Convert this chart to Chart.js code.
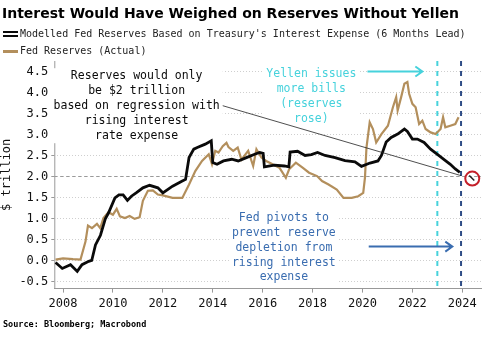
<!DOCTYPE html>
<html>
<head>
<meta charset="utf-8">
<script src="https://cdn.jsdelivr.net/npm/chart.js@4"></script>
<style>
  html, body { margin: 0; padding: 0; background: #fff; }
  #wrap { width: 485px; height: 343px; position: relative; }
</style>
</head>
<body>
<div id="wrap"><canvas id="chart"></canvas></div>
<script>
// Modelled reserves (black), decimal year -> $ trillion
const modelYears = [2007.7, 2007.97, 2008.3, 2008.57, 2008.76, 2009.03, 2009.15, 2009.3, 2009.5, 2009.7,
  2009.82, 2010.08, 2010.24, 2010.41, 2010.58, 2010.74, 2010.93, 2011.2, 2011.47, 2011.8,
  2012.0, 2012.39, 2012.78, 2012.91, 2013.05, 2013.24, 2013.38, 2013.7, 2013.94, 2014.0,
  2014.17, 2014.43, 2014.76, 2015.02, 2015.35, 2015.68, 2015.88, 2016.02, 2016.07, 2016.47,
  2016.87, 2017.05, 2017.1, 2017.4, 2017.7, 2017.95, 2018.2, 2018.5, 2018.9, 2019.3,
  2019.7, 2019.96, 2020.3, 2020.62, 2020.76, 2020.95, 2021.15, 2021.41, 2021.68, 2021.8,
  2022.0, 2022.2, 2022.47, 2022.73, 2022.99, 2023.26, 2023.52, 2023.72, 2023.9];
const modelValues = [-0.05, -0.19, -0.10, -0.26, -0.10, -0.02, 0.00, 0.37, 0.60, 1.00,
  1.13, 1.49, 1.56, 1.56, 1.43, 1.53, 1.61, 1.73, 1.79, 1.73,
  1.61, 1.77, 1.89, 1.93, 2.45, 2.65, 2.69, 2.77, 2.85, 2.33,
  2.29, 2.37, 2.41, 2.37, 2.45, 2.53, 2.57, 2.55, 2.23, 2.27,
  2.25, 2.23, 2.58, 2.60, 2.50, 2.52, 2.57, 2.50, 2.45, 2.38,
  2.35, 2.24, 2.32, 2.37, 2.50, 2.82, 2.93, 3.01, 3.13, 3.07,
  2.89, 2.89, 2.81, 2.65, 2.53, 2.41, 2.29, 2.18, 2.10];

// Actual Fed reserves (tan)
const actualYears = [2007.7, 2008.0, 2008.4, 2008.7, 2008.9, 2009.0, 2009.16, 2009.36, 2009.49, 2009.62,
  2009.82, 2010.0, 2010.15, 2010.28, 2010.48, 2010.67, 2010.87, 2011.07, 2011.2, 2011.4,
  2011.6, 2011.8, 2012.0, 2012.39, 2012.78, 2013.05, 2013.3, 2013.57, 2013.84, 2013.97,
  2014.1, 2014.23, 2014.4, 2014.55, 2014.63, 2014.82, 2015.0, 2015.15, 2015.42, 2015.62,
  2015.75, 2015.95, 2016.14, 2016.4, 2016.67, 2016.93, 2017.06, 2017.33, 2017.6, 2017.86,
  2018.18, 2018.38, 2018.64, 2018.97, 2019.24, 2019.57, 2019.83, 2020.03, 2020.1, 2020.16,
  2020.29, 2020.42, 2020.55, 2020.76, 2021.02, 2021.22, 2021.35, 2021.41, 2021.55, 2021.68,
  2021.8, 2021.87, 2022.0, 2022.13, 2022.27, 2022.4, 2022.53, 2022.73, 2022.93, 2023.13,
  2023.23, 2023.32, 2023.52, 2023.72, 2023.85];
const actualValues = [0.02, 0.05, 0.03, 0.02, 0.45, 0.83, 0.77, 0.87, 0.77, 1.01,
  1.15, 1.09, 1.23, 1.05, 1.01, 1.06, 0.99, 1.03, 1.42, 1.66,
  1.67, 1.57, 1.55, 1.49, 1.49, 1.81, 2.13, 2.37, 2.53, 2.29,
  2.61, 2.57, 2.72, 2.80, 2.70, 2.61, 2.69, 2.40, 2.61, 2.25,
  2.65, 2.45, 2.37, 2.29, 2.21, 1.97, 2.17, 2.33, 2.21, 2.09,
  2.01, 1.89, 1.81, 1.69, 1.49, 1.49, 1.53, 1.61, 1.97, 2.69,
  3.29, 3.13, 2.81, 3.01, 3.21, 3.65, 3.89, 3.57, 3.89, 4.21,
  4.25, 3.97, 3.73, 3.65, 3.25, 3.33, 3.13, 3.05, 3.01, 3.13,
  3.41, 3.17, 3.21, 3.25, 3.41];

const xTicks = [2008, 2010, 2012, 2014, 2016, 2018, 2020, 2022, 2024];
const yTicks = [-0.5, 0.0, 0.5, 1.0, 1.5, 2.0, 2.5, 3.0, 3.5, 4.0, 4.5];

const seriesNames = ["Modelled Fed Reserves Based on Treasury's Interest Expense (6 Months Lead)", 'Fed Reserves (Actual)'];
const titleText = 'Interest Would Have Weighed on Reserves Without Yellen';
const sourceText = 'Source: Bloomberg; Macrobond';

const yellenYear = 2023.0;
const pivotYear = 2023.95;
const targetValue = 2.02;

const noteBlack = ['Reserves would only', 'be $2 trillion', 'based on regression with', 'rising interest', 'rate expense'];
const noteCyan = ['Yellen issues', 'more bills', '(reserves', 'rose)'];
const noteBlue = ['Fed pivots to', 'prevent reserve', 'depletion from', 'rising interest', 'expense'];

const BLACK = '#0a0a0a';
const TAN = '#b38f5c';
const CYAN = '#46d2dc';
const BLUE = '#3a6db0';
const NAVY = '#2f4d86';
const MONO = '"DejaVu Sans Mono", "Liberation Mono", monospace';

function toPoints(xs, ys) {
    return xs.map((x, i) => ({ x: x, y: ys[i] }));
}

function textBlock(ctx, lines, cx, top, lh, color) {
    ctx.save();
    ctx.font = '11.5px ' + MONO;
    ctx.textAlign = 'center';
    ctx.textBaseline = 'middle';
    // white box behind the note hides the grid lines
    const w = Math.max(...lines.map(l => ctx.measureText(l).width)) + 6;
    ctx.fillStyle = '#fff';
    ctx.fillRect(cx - w / 2, top - lh / 2, w, lh * lines.length);
    ctx.fillStyle = color;
    lines.forEach((l, i) => ctx.fillText(l, cx, top + i * lh));
    ctx.restore();
}

function arrow(ctx, x1, x2, y, color) {
    ctx.save();
    ctx.strokeStyle = color;
    ctx.lineWidth = 2;
    ctx.beginPath();
    ctx.moveTo(x1, y);
    ctx.lineTo(x2, y);
    ctx.moveTo(x2 - 7, y - 5);
    ctx.lineTo(x2, y);
    ctx.lineTo(x2 - 7, y + 5);
    ctx.stroke();
    ctx.restore();
}

const annotations = {
    id: 'annotations',
    beforeDatasetsDraw(chart) {
        const { ctx, chartArea: a, scales: { x, y } } = chart;
        // darker dashed 2.0 line
        ctx.save();
        ctx.strokeStyle = '#9a9a9a';
        ctx.lineWidth = 1;
        ctx.setLineDash([3, 3]);
        const y2 = Math.round(y.getPixelForValue(2)) + 0.5;
        ctx.beginPath();
        ctx.moveTo(a.left, y2);
        ctx.lineTo(a.right, y2);
        ctx.stroke();
        // vertical markers
        ctx.lineWidth = 2;
        ctx.setLineDash([5, 5]);
        [[yellenYear, CYAN], [pivotYear, NAVY]].forEach(([yr, c]) => {
            const px = x.getPixelForValue(yr);
            ctx.strokeStyle = c;
            ctx.beginPath();
            ctx.moveTo(px, a.top);
            ctx.lineTo(px, a.bottom);
            ctx.stroke();
        });
        // solid left axis
        ctx.setLineDash([]);
        ctx.lineWidth = 1;
        ctx.strokeStyle = '#999';
        ctx.beginPath();
        ctx.moveTo(a.left + 0.5, a.top);
        ctx.lineTo(a.left + 0.5, a.bottom);
        ctx.stroke();
        ctx.restore();

        textBlock(ctx, noteBlack, x.getPixelForValue(2010.95), y.getPixelForValue(4.4), 15, BLACK);
        textBlock(ctx, noteCyan, x.getPixelForValue(2017.95), y.getPixelForValue(4.45), 15, CYAN);
        textBlock(ctx, noteBlue, x.getPixelForValue(2016.85), y.getPixelForValue(1.0), 14.7, BLUE);

        arrow(ctx, x.getPixelForValue(2020.2), x.getPixelForValue(2022.4), y.getPixelForValue(4.5), CYAN);
        arrow(ctx, x.getPixelForValue(2020.25), x.getPixelForValue(2023.6), y.getPixelForValue(0.33), BLUE);
    },
    afterDatasetsDraw(chart) {
        const { ctx, scales: { x, y } } = chart;
        // pointer line from the black note
        ctx.save();
        ctx.font = '11.5px ' + MONO;
        const lineY = y.getPixelForValue(4.4) + 30;
        const startX = x.getPixelForValue(2010.95) + ctx.measureText(noteBlack[2]).width / 2 + 3;
        const tx = x.getPixelForValue(pivotYear);
        const ty = y.getPixelForValue(targetValue);
        ctx.strokeStyle = '#222';
        ctx.lineWidth = 0.8;
        ctx.beginPath();
        ctx.moveTo(startX, lineY);
        ctx.lineTo(tx, ty);
        ctx.stroke();
        // red circle
        const cx = x.getPixelForValue(2024.4), cy = y.getPixelForValue(1.95);
        ctx.strokeStyle = '#c4202a';
        ctx.lineWidth = 2;
        ctx.beginPath();
        ctx.arc(cx, cy, 7, 0, Math.PI * 2);
        ctx.stroke();
        ctx.strokeStyle = '#222';
        ctx.lineWidth = 1.5;
        ctx.beginPath();
        ctx.moveTo(cx - 3, cy - 3);
        ctx.lineTo(cx + 2, cy + 2);
        ctx.stroke();
        ctx.restore();
    },
    afterDraw(chart) {
        const ctx = chart.ctx;
        ctx.save();
        ctx.textBaseline = 'middle';
        ctx.textAlign = 'left';
        ctx.fillStyle = '#000';
        ctx.font = 'bold 14px "DejaVu Sans", sans-serif';
        ctx.fillText(titleText, 2, 14);
        // legend
        ctx.font = '10px ' + MONO;
        ctx.fillStyle = '#222';
        ctx.fillText(seriesNames[0], 20, 34);
        ctx.fillText(seriesNames[1], 20, 51);
        ctx.fillStyle = BLACK;
        ctx.fillRect(3, 31, 15, 2);
        ctx.fillRect(3, 35, 15, 2);
        ctx.fillStyle = TAN;
        ctx.fillRect(3, 50, 15, 3);
        // source
        ctx.font = 'bold 8.5px ' + MONO;
        ctx.fillStyle = '#000';
        ctx.fillText(sourceText, 3, 325);
        ctx.restore();
    }
};

new Chart(document.getElementById('chart'), {
    type: 'line',
    data: {
        datasets: [
            {
                label: seriesNames[0],
                data: toPoints(modelYears, modelValues),
                borderColor: BLACK,
                backgroundColor: BLACK,
                borderWidth: 2.8,
                pointRadius: 0,
                tension: 0
            },
            {
                label: seriesNames[1],
                data: toPoints(actualYears, actualValues),
                borderColor: TAN,
                backgroundColor: TAN,
                borderWidth: 2.2,
                pointRadius: 0,
                tension: 0
            }
        ]
    },
    options: {
        responsive: true,
        maintainAspectRatio: false,
        animation: false,
        layout: { padding: { top: 61, bottom: 28, right: 4, left: 0 } },
        plugins: {
            legend: { display: false },
            title: { display: false },
            tooltip: { enabled: false }
        },
        scales: {
            x: {
                type: 'linear',
                min: 2007.65,
                max: 2024.75,
                afterBuildTicks: axis => { axis.ticks = xTicks.map(v => ({ value: v })); },
                grid: { display: true, drawOnChartArea: false, drawTicks: true, tickLength: 4, color: '#999' },
                border: { display: true, color: '#999' },
                ticks: {
                    color: '#111',
                    font: { family: MONO, size: 12 },
                    maxRotation: 0,
                    padding: 4,
                    callback: v => String(v)
                }
            },
            y: {
                min: -0.67,
                max: 4.75,
                afterBuildTicks: axis => { axis.ticks = yTicks.map(v => ({ value: v })); },
                grid: {
                    color: '#cfcfcf',
                    drawTicks: true,
                    tickLength: 3,
                    tickColor: '#999'
                },
                border: { display: false, dash: [1, 2] },
                title: {
                    display: true,
                    text: '$ trillion',
                    color: '#111',
                    font: { family: MONO, size: 12 },
                    padding: { top: 0, bottom: 2 }
                },
                ticks: {
                    color: '#111',
                    font: { family: MONO, size: 12 },
                    padding: 3,
                    callback: v => Number(v).toFixed(1)
                }
            }
        }
    },
    plugins: [annotations]
});
</script>
</body>
</html>
